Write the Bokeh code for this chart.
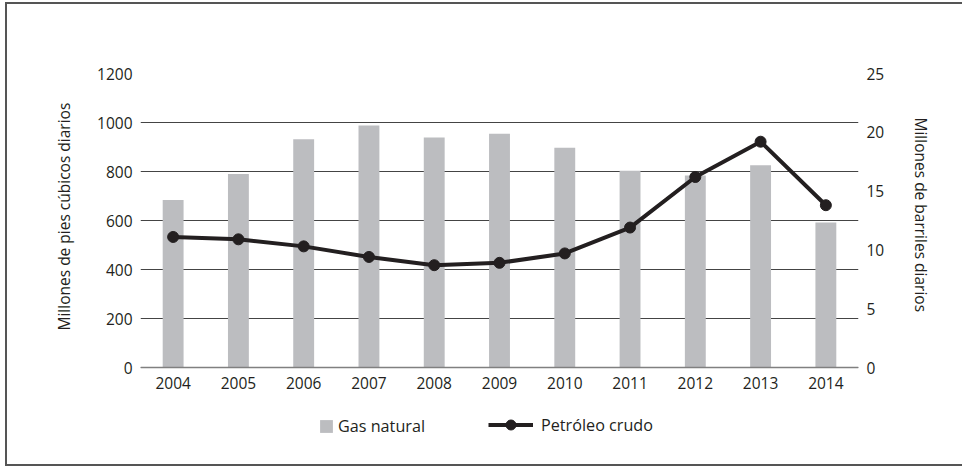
from bokeh.plotting import figure
from bokeh.models import Range1d, LinearAxis, FixedTicker, Legend, LegendItem, Title
from bokeh.embed import file_html
from bokeh.resources import INLINE

years = ["2004", "2005", "2006", "2007", "2008", "2009", "2010", "2011", "2012", "2013", "2014"]
gas_natural = [684, 790, 932, 988, 939, 954, 897, 803, 784, 826, 592]
petroleo_crudo = [11.1, 10.9, 10.3, 9.4, 8.7, 8.9, 9.7, 11.9, 16.2, 19.2, 13.8]
left_ticks = [0, 200, 400, 600, 800, 1000, 1200]
right_ticks = [0, 5, 10, 15, 20, 25]
left_max, right_max = 1200, 25

FONT = "Open Sans"
TXT = "#231f20"
BAR = "#bcbdc0"
FS = "15.5px"

# layout (pixels)
H, TOP, BOTTOM = 464, 69, 30
frame_h = H - TOP - BOTTOM          # 365
data_h = 294                        # pixels between 0 and the top tick
extra = (frame_h - data_h) / data_h  # room below zero for the legend

p = figure(x_range=years, y_range=Range1d(-left_max * extra, left_max),
           width=957, height=H, output_backend="svg", toolbar_location=None,
           min_border_left=133, min_border_right=106, min_border_top=TOP,
           min_border_bottom=BOTTOM)
p.styles = {"border-top": "2px solid #555", "border-left": "2px solid #555",
            "border-bottom": "2px solid #555", "margin-left": "5px", "margin-top": "2px"}
p.outline_line_color = None
p.extra_y_ranges = {"oil": Range1d(-right_max * extra, right_max)}

bars = p.vbar(x=years, top=gas_natural, width=0.32, fill_color=BAR, line_color=None)
line = p.line(x=years, y=petroleo_crudo, y_range_name="oil", line_color=TXT, line_width=4)
dots = p.scatter(x=years, y=petroleo_crudo, y_range_name="oil", size=11,
                 fill_color=TXT, line_color=TXT)

# left axis
ax = p.yaxis[0]
ax.ticker = FixedTicker(ticks=left_ticks)

# right axis
rax = LinearAxis(y_range_name="oil", ticker=FixedTicker(ticks=right_ticks))
p.add_layout(rax, "right")

# x axis sits on the zero line
xa = p.xaxis[0]
xa.fixed_location = 0
xa.axis_line_color = "#808080"
xa.axis_line_width = 1.5

for a in [ax, rax]:
    a.axis_line_color = None
    a.major_label_standoff = 8

xa.major_label_standoff = 9

for a in [ax, rax, xa]:
    a.major_tick_line_color = None
    a.minor_tick_line_color = None
    a.major_tick_out = 0
    a.major_tick_in = 0
    a.minor_tick_out = 0
    a.major_label_text_font = FONT
    a.major_label_text_font_size = FS
    a.major_label_text_color = TXT

# axis titles, centred on the data area rather than on the whole frame
ltitle = Title(text="Millones de pies cúbicos diarios", align="left", offset=108,
               standoff=40, text_font=FONT, text_font_size=FS, text_font_style="normal",
               text_color=TXT)
rtitle = Title(text="Millones de barriles diarios", align="left", offset=44,
               standoff=44, text_font=FONT, text_font_size=FS, text_font_style="normal",
               text_color=TXT)
p.add_layout(ltitle, "left")
p.add_layout(rtitle, "right")

p.xgrid.grid_line_color = None
p.ygrid.ticker = FixedTicker(ticks=left_ticks)
p.ygrid.grid_line_color = "#444444"
p.ygrid.grid_line_width = 1

common = dict(padding=0, margin=0, border_line_color=None, background_fill_alpha=0,
              label_text_font=FONT, label_text_font_size="16.2px", label_text_color=TXT)
leg1 = Legend(items=[LegendItem(label="Gas natural", renderers=[bars])],
              location=(178, 1), glyph_width=16, glyph_height=16, label_height=16,
              label_standoff=4, **common)
leg2 = Legend(items=[LegendItem(label="Petróleo crudo", renderers=[line, dots])],
              location=(348, 1), glyph_width=45, glyph_height=25, label_height=25,
              label_standoff=8, **common)
p.add_layout(leg1, "center")
p.add_layout(leg2, "center")

open("out.html", "w").write(file_html(p, INLINE))
